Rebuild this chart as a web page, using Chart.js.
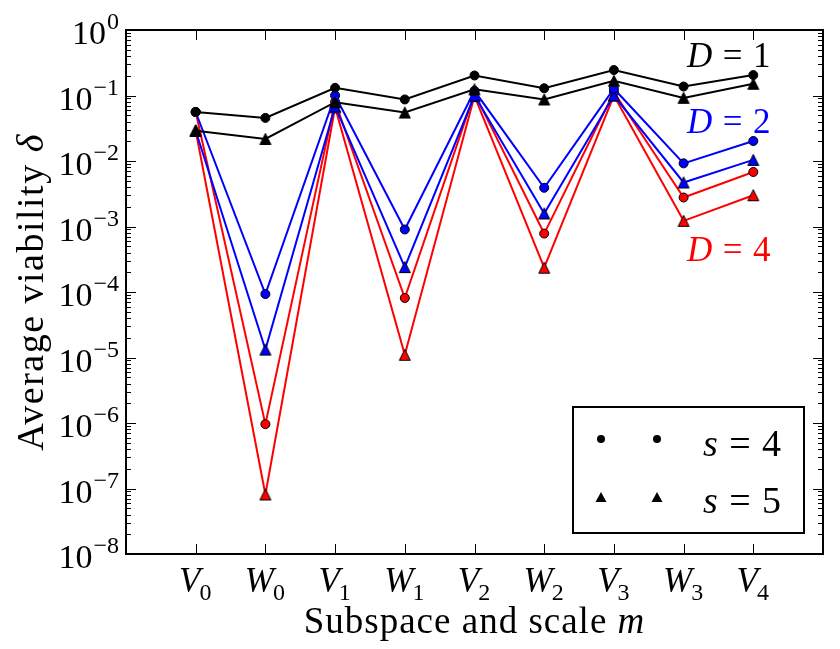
<!DOCTYPE html>
<html>
<head>
<meta charset="utf-8">
<script src="https://cdn.jsdelivr.net/npm/chart.js@4/dist/chart.umd.min.js"></script>
<style>
  html, body { margin: 0; padding: 0; background: #fff; }
  canvas { display: block; }
</style>
</head>
<body>
<canvas id="chart" width="840" height="649"></canvas>
<script>
'use strict';

// ---------- data ----------
const CAT_LETTERS = ['V', 'W', 'V', 'W', 'V', 'W', 'V', 'W', 'V'];
const CAT_SUBS = ['0', '0', '1', '1', '2', '2', '3', '3', '4'];
const Y_EXPONENTS = [0, -1, -2, -3, -4, -5, -6, -7, -8];

// average viability delta, per subspace (V0..V4)
const D1_S4 = [0.056, 0.0455, 0.131, 0.087, 0.202, 0.129, 0.245, 0.137, 0.205];
const D1_S5 = [0.029, 0.0217, 0.079, 0.055, 0.124, 0.087, 0.168, 0.092, 0.151];
const D2_S4 = [0.056, 9.3e-5, 0.1, 9.0e-4, 0.118, 0.0039, 0.127, 0.0092, 0.0202];
const D2_S5 = [0.029, 1.32e-5, 0.068, 2.4e-4, 0.1, 0.00158, 0.1, 0.0047, 0.0104];
const D4_S4 = [0.056, 9.6e-7, 0.08, 8.1e-5, 0.108, 7.8e-4, 0.112, 0.00277, 0.0068];
const D4_S5 = [0.029, 8.1e-8, 0.066, 1.1e-5, 0.098, 2.35e-4, 0.1, 0.00122, 0.0030];

const SERIF = '"Liberation Serif", "DejaVu Serif", serif';

// ---------- helpers ----------
function pts(arr) {
  return arr.map((v, i) => ({ x: i, y: v }));
}

// matplotlib-style '^' marker: box-centred triangle
function triangleImg(fill, size) {
  const c = document.createElement('canvas');
  c.width = size + 3;
  c.height = size + 3;
  const g = c.getContext('2d');
  const m = c.width / 2;
  g.beginPath();
  g.moveTo(m, m - size / 2);
  g.lineTo(m - size / 2, m + size / 2);
  g.lineTo(m + size / 2, m + size / 2);
  g.closePath();
  g.fillStyle = fill;
  g.fill();
  g.lineWidth = 1;
  g.strokeStyle = '#000';
  g.stroke();
  return c;
}

function series(label, data, color, shape) {
  const base = {
    label, data: pts(data), borderColor: color, borderWidth: 2,
    fill: false, tension: 0,
    pointBackgroundColor: color, pointBorderColor: '#000', pointBorderWidth: 1,
  };
  if (shape === 'tri') {
    base.pointStyle = triangleImg(color, 11);
  } else {
    base.pointStyle = 'circle';
    base.pointRadius = 4.5;
  }
  return base;
}

// ---------- axes, labels, legend drawn like matplotlib ----------
const decor = {
  id: 'decor',
  afterDraw(chart) {
    const { ctx, chartArea: a, scales: { x, y } } = chart;
    ctx.save();
    ctx.strokeStyle = '#000';
    ctx.fillStyle = '#000';
    ctx.textBaseline = 'alphabetic';
    ctx.textAlign = 'left';

    // ticks
    ctx.lineWidth = 1;
    ctx.beginPath();
    for (const e of Y_EXPONENTS) {
      const py = Math.round(y.getPixelForValue(Math.pow(10, e))) + 0.5;
      ctx.moveTo(a.left, py); ctx.lineTo(a.left + 10, py);
      ctx.moveTo(a.right, py); ctx.lineTo(a.right - 10, py);
      if (e < 0) {
        for (let k = 2; k <= 9; k++) {
          const pm = Math.round(y.getPixelForValue(k * Math.pow(10, e))) + 0.5;
          ctx.moveTo(a.left, pm); ctx.lineTo(a.left + 5, pm);
          ctx.moveTo(a.right, pm); ctx.lineTo(a.right - 5, pm);
        }
      }
    }
    CAT_LETTERS.forEach((_, i) => {
      const px = Math.round(x.getPixelForValue(i)) + 0.5;
      ctx.moveTo(px, a.bottom); ctx.lineTo(px, a.bottom - 10);
      ctx.moveTo(px, a.top); ctx.lineTo(px, a.top + 10);
    });
    ctx.stroke();

    // frame
    ctx.lineWidth = 2;
    ctx.strokeRect(a.left, a.top, a.width, a.height);

    // y tick labels 10^e
    for (const e of Y_EXPONENTS) {
      const py = y.getPixelForValue(Math.pow(10, e));
      const sup = e === 0 ? '0' : '\u2212' + (-e);
      ctx.font = '34px ' + SERIF;
      const wb = ctx.measureText('10').width;
      ctx.font = '24px ' + SERIF;
      const ws = ctx.measureText(sup).width;
      const x0 = a.left - 7 - ws - wb - 1;
      ctx.font = '34px ' + SERIF;
      ctx.fillText('10', x0, py + 14);
      ctx.font = '24px ' + SERIF;
      ctx.fillText(sup, x0 + wb + 1, py - 1);
    }

    // x tick labels V_m / W_m
    CAT_LETTERS.forEach((L, i) => {
      const px = x.getPixelForValue(i);
      ctx.font = 'italic 35px ' + SERIF;
      const wl = ctx.measureText(L).width;
      ctx.font = '24px ' + SERIF;
      const ws = ctx.measureText(CAT_SUBS[i]).width;
      const x0 = px - (wl + ws) / 2;
      ctx.font = 'italic 35px ' + SERIF;
      ctx.fillText(L, x0, 592);
      ctx.font = '24px ' + SERIF;
      ctx.fillText(CAT_SUBS[i], x0 + wl - 1, 600);
    });

    // text runs with mixed fonts
    const runs = (parts, x0, yb, sp) => {
      let cx = x0;
      ctx.letterSpacing = (sp || 0) + 'px';
      for (const [txt, font, col] of parts) {
        ctx.font = font;
        ctx.fillStyle = col || '#000';
        ctx.fillText(txt, cx, yb);
        cx += ctx.measureText(txt).width;
      }
      ctx.letterSpacing = '0px';
    };
    const width = (parts, sp) => {
      ctx.letterSpacing = (sp || 0) + 'px';
      const w = parts.reduce((s, [txt, font]) => {
        ctx.font = font; return s + ctx.measureText(txt).width;
      }, 0);
      ctx.letterSpacing = '0px';
      return w;
    };

    const xt = [['Subspace and scale ', '37px ' + SERIF], ['m', 'italic 37px ' + SERIF]];
    runs(xt, (a.left + a.right) / 2 - width(xt, 1) / 2, 633, 1);

    const yt = [['Average viability ', '38px ' + SERIF], ['\u03b4', 'italic 38px ' + SERIF]];
    ctx.save();
    ctx.translate(43, (a.top + a.bottom) / 2);
    ctx.rotate(-Math.PI / 2);
    runs(yt, -width(yt, 1.5) / 2, 0, 1.5);
    ctx.restore();

    // "var = n" math labels
    const eq = (v, n, x0, yb, size, col) => {
      ctx.fillStyle = col;
      ctx.font = 'italic ' + size + 'px ' + SERIF;
      ctx.fillText(v, x0, yb);
      let cx = x0 + ctx.measureText(v).width + size * 0.3;
      ctx.font = size + 'px ' + SERIF;
      ctx.fillText('=', cx, yb);
      cx += ctx.measureText('=').width + size * 0.3;
      ctx.fillText(n, cx, yb);
    };
    eq('D', '1', 687, 67, 35, '#000000');
    eq('D', '2', 687, 133, 35, '#0000ff');
    eq('D', '4', 687, 261, 35, '#ff0000');

    // legend box
    ctx.fillStyle = '#fff';
    ctx.fillRect(573, 407, 231, 126);
    ctx.lineWidth = 2;
    ctx.strokeStyle = '#000';
    ctx.strokeRect(573, 407, 231, 126);
    ctx.fillStyle = '#000';
    for (const mx of [601, 657]) {
      ctx.beginPath();
      ctx.arc(mx, 439, 4, 0, Math.PI * 2);
      ctx.fill();
      ctx.beginPath();
      ctx.moveTo(mx, 492); ctx.lineTo(mx - 5.5, 502); ctx.lineTo(mx + 5.5, 502);
      ctx.closePath();
      ctx.fill();
    }
    eq('s', '4', 703, 456, 38, '#000');
    eq('s', '5', 703, 513, 38, '#000');

    ctx.restore();
  },
};

// ---------- chart ----------
new Chart(document.getElementById('chart'), {
  type: 'line',
  data: {
    datasets: [
      series('D=1, s=4', D1_S4, '#000000', 'circle'),
      series('D=1, s=5', D1_S5, '#000000', 'tri'),
      series('D=2, s=4', D2_S4, '#0000ff', 'circle'),
      series('D=2, s=5', D2_S5, '#0000ff', 'tri'),
      series('D=4, s=4', D4_S4, '#ff0000', 'circle'),
      series('D=4, s=5', D4_S5, '#ff0000', 'tri'),
    ],
  },
  options: {
    responsive: false,
    animation: false,
    devicePixelRatio: 1,
    layout: { padding: { left: 126, top: 30, right: 17, bottom: 95 } },
    scales: {
      x: { type: 'linear', min: -1, max: 9, display: false },
      y: { type: 'logarithmic', min: 1e-8, max: 1, display: false },
    },
    plugins: { legend: { display: false }, tooltip: { enabled: false } },
  },
  plugins: [decor],
});
</script>
</body>
</html>
